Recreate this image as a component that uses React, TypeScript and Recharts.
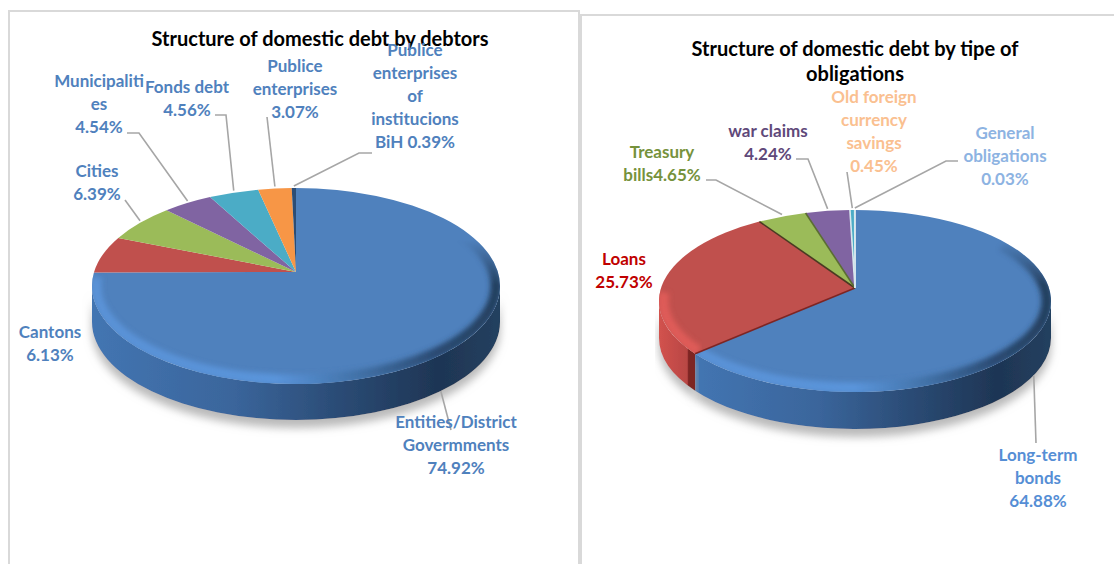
import { Cell, Pie, PieChart } from "recharts";

const debtorNames = [
  "Entities/District Govermments",
  "Cantons",
  "Cities",
  "Municipalities",
  "Fonds debt",
  "Publice enterprises",
  "Publice enterprises of institucions BiH",
];
const debtorValues = [74.92, 6.13, 6.39, 4.54, 4.56, 3.07, 0.39];
const debtorColors = ["#4F81BD", "#C0504D", "#9BBB59", "#8064A2", "#4BACC6", "#F79646", "#2C4D75"];
const debtorLines = [
  ["Entities/District", "Govermments", "{v}"],
  ["Cantons", "{v}"],
  ["Cities", "{v}"],
  ["Municipaliti", "es", "{v}"],
  ["Fonds debt", "{v}"],
  ["Publice", "enterprises", "{v}"],
  ["Publice", "enterprises", "of", "institucions", "BiH {v}"],
];

const obligationNames = [
  "Long-term bonds",
  "Loans",
  "Treasury bills",
  "war claims",
  "Old foreign currency savings",
  "General obligations",
];
const obligationValues = [64.88, 25.73, 4.65, 4.24, 0.45, 0.03];
const obligationColors = ["#4F81BD", "#C0504D", "#9BBB59", "#8064A2", "#4BACC6", "#F79646"];
const obligationLines = [
  ["Long-term", "bonds", "{v}"],
  ["Loans", "{v}"],
  ["Treasury", "bills{v}"],
  ["war claims", "{v}"],
  ["Old foreign", "currency", "savings", "{v}"],
  ["General", "obligations", "{v}"],
];

// label placement: centre x, first line y, colour, leader line start points
const debtorLabels = [
  { x: 456, y: 422, color: "#4F81BD", lead: [[451, 430]] },
  { x: 50, y: 332, color: "#4F81BD", lead: [] },
  { x: 97, y: 171, color: "#4F81BD", lead: [[125, 200]] },
  { x: 99, y: 81, color: "#4F81BD", lead: [[127, 133], [139, 133]] },
  { x: 187, y: 87, color: "#4F81BD", lead: [[215, 115], [226, 115]] },
  { x: 295, y: 66, color: "#4F81BD", lead: [[267, 117]] },
  { x: 415, y: 50, color: "#4F81BD", lead: [[372, 153], [359, 153]] },
];
const obligationLabels = [
  { x: 1038, y: 455, color: "#558ED5", lead: [[1036, 443]] },
  { x: 624, y: 259, color: "#C00000", lead: [] },
  { x: 662, y: 152, color: "#76923C", lead: [[706, 180], [716, 180]] },
  { x: 768, y: 131, color: "#5F497A", lead: [[796, 159], [808, 159]] },
  { x: 874, y: 97, color: "#FAC090", lead: [[847, 172]] },
  { x: 1005, y: 133, color: "#8DB3E2", lead: [[958, 161], [946, 161]] },
];

const debtorGeom = { ry: 98, dy: 14, depth: 36, front: 1.2 };
const obligationGeom = { ry: 91, dy: 13, depth: 37, front: 1.2 };
const obligationEdges = ["#e4edf3", "#7d2523", "#4a3a22", "#5b6d33", "#d8e8ee", "#d8e8ee"];

const wallFill: Record<string, string> = { "#4F81BD": "url(#wallBlue)", "#C0504D": "url(#wallRed)" };
const bevelStroke: Record<string, string> = { "#4F81BD": "url(#bevelBlue)", "#C0504D": "#DE5C58" };

const FONT = "Lato, Carlito, sans-serif";
const LABEL_SIZE = 17;

// where a ray from the apex hits the tilted rim, theta clockwise from 12 o'clock
function rimPoint(g: any, cx: number, cy: number, rx: number, theta: number) {
  const t = (theta * Math.PI) / 180;
  const dx = Math.sin(t) * rx;
  const dy = -Math.cos(t) * g.ry * (Math.cos(t) < 0 ? g.front : 1);
  const a = (dx / rx) ** 2 + (dy / g.ry) ** 2;
  const b = (-2 * dy * g.dy) / g.ry ** 2;
  const c = (g.dy / g.ry) ** 2 - 1;
  const s = (-b + Math.sqrt(b * b - 4 * a * c)) / (2 * a);
  return { x: cx + s * dx, y: cy + s * dy };
}

function paramOf(g: any, cx: number, cy: number, rx: number, p: { x: number; y: number }) {
  let phi = Math.atan2((p.y - cy - g.dy) / g.ry, (p.x - cx) / rx);
  if (phi < -Math.PI / 2 - 1e-6) phi += Math.PI * 2;
  return phi;
}

const makeSlice = (g: any, edges?: string[]) => (props: any) => {
  const { cx, cy, outerRadius: rx, startAngle, endAngle, fill, index } = props;
  const t1 = 90 - startAngle;
  const t2 = 90 - endAngle;
  const p1 = rimPoint(g, cx, cy, rx, t1);
  const p2 = rimPoint(g, cx, cy, rx, t2);
  const f1 = paramOf(g, cx, cy, rx, p1);
  let f2 = paramOf(g, cx, cy, rx, p2);
  if (f2 <= f1) f2 += Math.PI * 2;
  const ey = cy + g.dy;
  const at = (f: number, rrx = rx, rry = g.ry) => ({ x: cx + rrx * Math.cos(f), y: ey + rry * Math.sin(f) });
  const top = `M${cx},${cy}L${p1.x},${p1.y}A${rx},${g.ry} 0 ${f2 - f1 > Math.PI ? 1 : 0} 1 ${p2.x},${p2.y}Z`;

  const wa = Math.max(f1, 0);
  const wb = Math.min(f2, Math.PI);
  let wall = null;
  if (wb > wa && wallFill[fill]) {
    const a = at(wa);
    const b = at(wb);
    wall = `M${a.x},${a.y}A${rx},${g.ry} 0 0 1 ${b.x},${b.y}L${b.x},${b.y + g.depth}A${rx},${g.ry} 0 0 0 ${a.x},${a.y + g.depth}Z`;
  }
  const ba = Math.max(f1, -0.7);
  const bb = Math.min(f2, Math.PI + 0.1);
  let bevel = null;
  if (bb > ba && bevelStroke[fill]) {
    const a = at(ba, rx - 4, g.ry - 4);
    const b = at(bb, rx - 4, g.ry - 4);
    bevel = `M${a.x},${a.y}A${rx - 4},${g.ry - 4} 0 ${bb - ba > Math.PI ? 1 : 0} 1 ${b.x},${b.y}`;
  }
  const clipId = `clip-${cx}-${index}`;
  return (
    <g>
      {wall && <path d={wall} fill={wallFill[fill]} filter="url(#pieShadow)" />}
      <path d={top} fill={fill} />
      {bevel && (
        <>
          <clipPath id={clipId}>
            <path d={top} />
          </clipPath>
          <g clipPath={`url(#${clipId})`}>
            <g mask="url(#bevelFade)">
              <path d={bevel} fill="none" stroke={bevelStroke[fill]} strokeWidth={11} filter="url(#bevelBlur)" />
            </g>
          </g>
        </>
      )}
      {edges && <path d={`M${cx},${cy}L${p1.x},${p1.y}`} stroke={edges[index]} strokeWidth={1.6} fill="none" />}
    </g>
  );
};

const makeLabel = (g: any, layout: any[], lines: string[][], values: number[]) => (props: any) => {
  const { cx, cy, midAngle, outerRadius, index } = props;
  const l = layout[index];
  const theta = 90 - midAngle;
  const rim = rimPoint(g, cx, cy, outerRadius, theta);
  const inFront = rim.y > cy + g.dy;
  const end = { x: rim.x, y: inFront ? rim.y + g.depth : rim.y - 2 };
  const pts = [...l.lead, [end.x, end.y]].map((p: number[]) => p.join(",")).join(" ");
  return (
    <g>
      {l.lead.length > 0 && <polyline points={pts} fill="none" stroke="#a6a6a6" strokeWidth={1.6} />}
      {lines[index].map((line, i) => (
        <text
          key={i}
          x={l.x}
          y={l.y + i * 23}
          dy={5.5}
          textAnchor="middle"
          fontFamily={FONT}
          fontWeight={700}
          fontSize={LABEL_SIZE}
          fill={l.color}
        >
          {line.replace("{v}", `${values[index].toFixed(2)}%`)}
        </text>
      ))}
    </g>
  );
};

const debtorData = debtorNames.map((name, i) => ({ name, value: debtorValues[i] }));
const obligationData = obligationNames.map((name, i) => ({ name, value: obligationValues[i] }));

const frame = { position: "absolute", border: "2px solid #d9d9d9", boxSizing: "border-box", background: "#fff" } as const;

function Title({ x, y, children }: { x: number; y: number; children: string }) {
  return (
    <text x={x} y={y} dy={7} textAnchor="middle" fontFamily={FONT} fontWeight={700} fontSize={20} fill="#000">
      {children}
    </text>
  );
}

export default function App() {
  return (
    <div style={{ position: "absolute", left: 0, top: 0, width: 1114, height: 564, overflow: "hidden", background: "#fff" }}>
      <div style={{ ...frame, left: 8, top: 10, width: 572, height: 600 }} />
      <div style={{ ...frame, left: 580, top: 14, width: 600, height: 600 }} />
      <div style={{ position: "absolute", left: 0, top: 0 }}>
        <PieChart width={1114} height={564} margin={{ top: 0, right: 0, bottom: 0, left: 0 }}>
          <defs>
            <linearGradient id="wallBlue" x1="0" y1="0" x2="1" y2="0">
              <stop offset="0%" stopColor="#4375B2" />
              <stop offset="35%" stopColor="#3A659B" />
              <stop offset="60%" stopColor="#2B4C76" />
              <stop offset="85%" stopColor="#1E3554" />
              <stop offset="100%" stopColor="#24405F" />
            </linearGradient>
            <linearGradient id="wallRed" x1="0" y1="0" x2="1" y2="0">
              <stop offset="0%" stopColor="#D2524E" />
              <stop offset="78%" stopColor="#B94744" />
              <stop offset="82%" stopColor="#7D2523" />
              <stop offset="100%" stopColor="#7D2523" />
            </linearGradient>
            <linearGradient id="bevelBlue" x1="0" y1="0" x2="1" y2="0">
              <stop offset="0%" stopColor="#5A92D6" />
              <stop offset="45%" stopColor="#5A94DA" />
              <stop offset="65%" stopColor="#4272A8" />
              <stop offset="85%" stopColor="#2A4A72" />
              <stop offset="100%" stopColor="#24405F" />
            </linearGradient>
            <linearGradient id="fadeDown" x1="0" y1="0" x2="0" y2="1">
              <stop offset="0%" stopColor="#000" />
              <stop offset="50%" stopColor="#fff" />
            </linearGradient>
            <mask id="bevelFade" maskUnits="userSpaceOnUse" x="0" y="0" width="1114" height="564">
              <rect x="0" y="240" width="1114" height="90" fill="url(#fadeDown)" />
              <rect x="0" y="330" width="1114" height="234" fill="#fff" />
            </mask>
            <filter id="bevelBlur" x="-10%" y="-20%" width="120%" height="140%">
              <feGaussianBlur stdDeviation="2.5" />
            </filter>
            <filter id="pieShadow" x="-10%" y="-20%" width="120%" height="160%">
              <feDropShadow dx="0" dy="8" stdDeviation="4.5" floodColor="#a8a8a8" floodOpacity="0.8" />
            </filter>
          </defs>
          <Pie
            data={debtorData}
            dataKey="value"
            nameKey="name"
            cx={296}
            cy={272}
            outerRadius={204}
            startAngle={90}
            endAngle={-270}
            stroke="none"
            isAnimationActive={false}
            labelLine={false}
            shape={makeSlice(debtorGeom)}
            label={makeLabel(debtorGeom, debtorLabels, debtorLines, debtorValues)}
          >
            {debtorData.map((d, i) => (
              <Cell key={d.name} fill={debtorColors[i]} />
            ))}
          </Pie>
          <Pie
            data={obligationData}
            dataKey="value"
            nameKey="name"
            cx={855}
            cy={288}
            outerRadius={196}
            startAngle={90}
            endAngle={-270}
            stroke="none"
            isAnimationActive={false}
            labelLine={false}
            shape={makeSlice(obligationGeom, obligationEdges)}
            label={makeLabel(obligationGeom, obligationLabels, obligationLines, obligationValues)}
          >
            {obligationData.map((d, i) => (
              <Cell key={d.name} fill={obligationColors[i]} />
            ))}
          </Pie>
          <Title x={320} y={39}>Structure of domestic debt by debtors</Title>
          <Title x={855} y={49}>Structure of domestic debt by tipe of</Title>
          <Title x={855} y={74}>obligations</Title>
        </PieChart>
      </div>
    </div>
  );
}
